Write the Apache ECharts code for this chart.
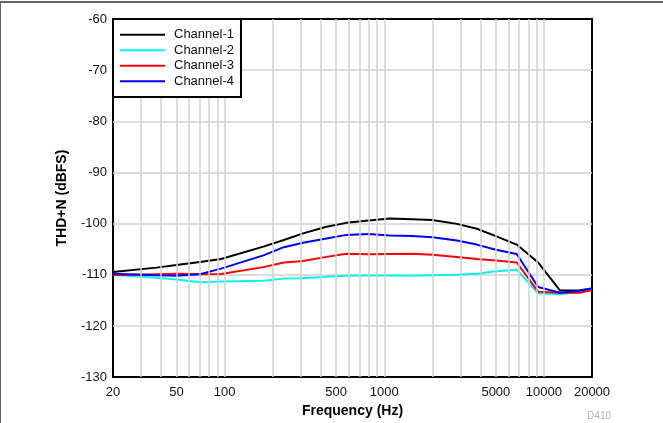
<!DOCTYPE html>
<html>
<head>
<meta charset="utf-8">
<script src="https://cdn.jsdelivr.net/npm/echarts@6/dist/echarts.min.js"></script>
<style>
html,body{margin:0;padding:0;background:#fff;}
#c{width:663px;height:423px;}
</style>
</head>
<body>
<div id="c"></div>
<script>
// Frequencies (Hz) at which values were read
const freqs = [20, 37.5, 50, 70, 95, 175, 235, 310, 435, 580, 800, 1080, 1500, 2000, 2850, 3800, 5000, 6750, 9200, 12600, 16800, 20000];
const channel1 = [-109.45, -108.6, -108.1, -107.5, -106.9, -104.5, -103.2, -101.9, -100.6, -99.85, -99.4, -99.0, -99.15, -99.3, -100.05, -101.0, -102.45, -104.1, -107.6, -113.05, -113.0, -112.7];
const channel2 = [-110.0, -110.6, -110.9, -111.45, -111.3, -111.15, -110.75, -110.7, -110.4, -110.2, -110.15, -110.15, -110.2, -110.1, -110.0, -109.8, -109.3, -109.0, -113.6, -113.8, -113.3, -112.8];
const channel3 = [-110.1, -109.9, -109.8, -109.9, -109.85, -108.5, -107.6, -107.3, -106.5, -105.9, -106.0, -105.95, -105.9, -106.1, -106.5, -106.9, -107.2, -107.6, -113.3, -113.5, -113.5, -113.0];
const channel4 = [-109.8, -110.1, -110.2, -109.9, -108.8, -106.2, -104.6, -103.75, -102.9, -102.2, -102.05, -102.3, -102.4, -102.65, -103.3, -104.1, -105.1, -105.95, -112.4, -113.5, -113.1, -112.7];
const seriesNames = ['Channel-1', 'Channel-2', 'Channel-3', 'Channel-4'];
const xTickLabels = [20, 50, 100, 500, 1000, 5000, 10000, 20000];
const xGridValues = [30, 40, 50, 60, 70, 80, 90, 100, 200, 300, 400, 500, 600, 700, 800, 900, 1000, 2000, 3000, 4000, 5000, 6000, 7000, 8000, 9000, 10000];
const yMin = -130, yMax = -60, yStep = 10;

const colors = ['#000000', '#00f5f5', '#ff0000', '#0000ff'];
const allData = [channel1, channel2, channel3, channel4];
const font = 'Liberation Sans, Arial, Helvetica, sans-serif';

const chart = echarts.init(document.getElementById('c'), null, {renderer: 'canvas'});

const series = allData.map((vals, i) => ({
  name: seriesNames[i],
  type: 'line',
  data: freqs.map((f, k) => [f, vals[k]]),
  symbol: 'none',
  z: 3,
  lineStyle: {color: colors[i], width: 2},
  itemStyle: {color: colors[i]},
  animation: false
}));

series.unshift({
  name: 'grid',
  type: 'line',
  data: [],
  z: 1,
  silent: true,
  animation: false,
  markLine: {
    silent: true,
    symbol: ['none', 'none'],
    label: {show: false},
    animation: false,
    lineStyle: {color: '#d2d2d2', width: 1.5, type: 'solid'},
    data: xGridValues.map(v => ({xAxis: v}))
  }
});

chart.setOption({
  animation: false,
  backgroundColor: '#ffffff',
  textStyle: {fontFamily: font},
  grid: {
    left: 113, right: 71, top: 19, bottom: 44,
    show: true, borderColor: '#000', borderWidth: 2, backgroundColor: '#fff'
  },
  legend: {
    data: seriesNames,
    left: 113, top: 19,
    orient: 'vertical',
    backgroundColor: '#fff',
    borderColor: '#000',
    borderWidth: 2,
    borderRadius: 0,
    padding: [8, 7, 8, 7],
    icon: 'rect',
    itemWidth: 45,
    itemHeight: 2,
    itemGap: 0,
    z: 10,
    textStyle: {fontSize: 13, lineHeight: 15.5, color: '#111', fontFamily: font, padding: [0, 0, 0, 4]},
    selectedMode: false
  },
  xAxis: {
    type: 'log',
    logBase: 10,
    min: 20,
    max: 20000,
    name: 'Frequency (Hz)',
    nameLocation: 'middle',
    nameGap: 24,
    nameTextStyle: {fontSize: 14, fontWeight: 'bold', color: '#000', fontFamily: font},
    axisLine: {show: false},
    axisTick: {show: false},
    splitLine: {show: false},
    minorTick: {show: false},
    axisLabel: {
      customValues: xTickLabels,
      fontSize: 13,
      color: '#111',
      margin: 9,
      fontFamily: font,
      formatter: v => String(Math.round(v))
    }
  },
  yAxis: {
    type: 'value',
    min: yMin,
    max: yMax,
    interval: yStep,
    name: 'THD+N (dBFS)',
    nameLocation: 'middle',
    nameGap: 44,
    nameTextStyle: {fontSize: 14, fontWeight: 'bold', color: '#000', fontFamily: font},
    axisLine: {show: false},
    axisTick: {show: false},
    splitLine: {show: true, showMinLine: false, showMaxLine: false, lineStyle: {color: '#d2d2d2', width: 1.5}},
    axisLabel: {fontSize: 13, color: '#111', margin: 6, fontFamily: font}
  },
  graphic: [
    {type: 'line', shape: {x1: 0, y1: 2, x2: 663, y2: 2}, style: {stroke: '#333', lineWidth: 1.5}, silent: true},
    {type: 'line', shape: {x1: 0.5, y1: 2, x2: 0.5, y2: 423}, style: {stroke: '#666', lineWidth: 1}, silent: true},
    {type: 'text', right: 52, top: 411, style: {text: 'D410', fill: '#b0b0b0', fontSize: 10, fontFamily: font}, silent: true}
  ],
  series: series
});
</script>
</body>
</html>
